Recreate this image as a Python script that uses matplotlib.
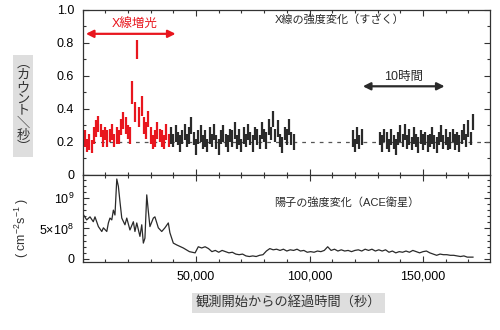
import matplotlib.pyplot as plt
from matplotlib.ticker import MultipleLocator, FixedLocator, FixedFormatter

# X線 (すざく) : 時刻 [ks], カウント/秒, 誤差
xray_time = [1, 2, 3, 4, 5, 6, 7, 8, 9, 10, 11, 12, 13, 14, 15, 16, 17, 18, 19, 20,
             21, 22, 23, 24, 25, 26, 27, 28, 29, 30, 31, 32, 33, 34, 35, 36, 37, 38,
             39, 40, 41, 42, 43, 44, 45, 46, 47, 48, 49, 50, 51, 52, 53, 54, 55, 56,
             57, 58, 59, 60, 61, 62, 63, 64, 65, 66, 67, 68, 69, 70, 71, 72, 73, 74,
             75, 76, 77, 78, 79, 80, 81, 82, 83, 84, 85, 86, 87, 88, 89, 90, 91, 92, 93,
             119, 120, 121, 122, 123,
             131, 132, 133, 134, 135, 136, 137, 138, 139, 140, 141, 142, 143, 144,
             145, 146, 147, 148, 149, 150, 151, 152, 153, 154, 155, 156, 157, 158,
             159, 160, 161, 162, 163, 164, 165, 166, 167, 168, 169, 170, 171, 172]
xray_rate = [0.22, 0.18, 0.20, 0.17, 0.24, 0.28, 0.31, 0.27, 0.22, 0.25, 0.22, 0.24, 0.26,
             0.21, 0.24, 0.23, 0.29, 0.33, 0.30, 0.26, 0.24, 0.50, 0.38, 0.76, 0.35, 0.42,
             0.30, 0.27, 0.34, 0.24, 0.20, 0.22, 0.27, 0.24, 0.22, 0.20, 0.26, 0.21,
             0.24, 0.21, 0.25, 0.22, 0.19, 0.23, 0.26, 0.21, 0.24, 0.30, 0.22, 0.17, 0.23,
             0.25, 0.20, 0.22, 0.18, 0.24, 0.21, 0.26, 0.20, 0.17, 0.23, 0.25, 0.21, 0.19,
             0.24, 0.22, 0.27, 0.20, 0.23, 0.18, 0.24, 0.21, 0.26, 0.22, 0.19, 0.25, 0.23,
             0.20, 0.27, 0.24, 0.21, 0.29, 0.25, 0.34, 0.24, 0.28, 0.21, 0.18, 0.25, 0.23,
             0.29, 0.22, 0.20,
             0.22, 0.18, 0.24, 0.20, 0.23,
             0.22, 0.19, 0.24, 0.21, 0.18, 0.23, 0.20, 0.17, 0.22, 0.25, 0.21, 0.26, 0.20,
             0.23, 0.19, 0.24, 0.21, 0.18, 0.23, 0.20, 0.22, 0.19, 0.21, 0.24, 0.20, 0.18,
             0.22, 0.25, 0.20, 0.23, 0.19, 0.21, 0.24, 0.20, 0.22, 0.19, 0.23, 0.26, 0.21,
             0.28, 0.22, 0.32]
xray_err = [0.05, 0.04, 0.05, 0.04, 0.05, 0.05, 0.05, 0.04, 0.05, 0.04, 0.05, 0.04, 0.05,
            0.04, 0.05, 0.04, 0.05, 0.05, 0.05, 0.04, 0.05, 0.07, 0.06, 0.06, 0.06, 0.06,
            0.05, 0.05, 0.05, 0.05, 0.04, 0.05, 0.05, 0.04, 0.05, 0.04, 0.05, 0.04,
            0.05, 0.04, 0.05, 0.04, 0.05, 0.04, 0.05, 0.04, 0.05, 0.05, 0.04, 0.05, 0.04,
            0.05, 0.04, 0.05, 0.04, 0.05, 0.04, 0.05, 0.04, 0.05, 0.04, 0.05, 0.04, 0.05,
            0.04, 0.05, 0.05, 0.04, 0.05, 0.04, 0.05, 0.04, 0.05, 0.04, 0.05, 0.04, 0.05,
            0.04, 0.05, 0.04, 0.05, 0.05, 0.04, 0.05, 0.04, 0.05, 0.04, 0.05, 0.04, 0.05,
            0.05, 0.04, 0.05,
            0.05, 0.04, 0.05, 0.04, 0.05,
            0.04, 0.05, 0.04, 0.05, 0.04, 0.05, 0.04, 0.05, 0.04, 0.05, 0.04, 0.05, 0.04,
            0.05, 0.04, 0.05, 0.04, 0.05, 0.04, 0.05, 0.04, 0.05, 0.04, 0.05, 0.04, 0.05,
            0.04, 0.05, 0.04, 0.05, 0.04, 0.05, 0.04, 0.05, 0.04, 0.05, 0.04, 0.05, 0.04,
            0.05, 0.04, 0.05]
flare_end = 38.5  # ks, X線増光の区間

# 陽子 (ACE) : 時刻 [ks], 強度 [1e8 cm^-2 s^-1]
proton_time = [0.0, 1.85, 3.3, 4.75, 5.5, 7.0, 8.5, 9.2, 10.7, 11.4, 12.1, 12.9, 13.6,
               14.3, 15.1, 15.8, 16.5, 17.3, 18.7, 19.5, 20.9, 22.4, 23.1, 23.9, 25.3,
               26.1, 26.8, 27.5, 28.3, 29.0, 29.7, 31.2, 31.9, 33.4, 34.9, 36.3, 37.8,
               38.5, 40.0, 41.5, 44.4, 47.1, 49.6,
               51.0, 52.5, 54.0, 55.5, 57.0, 58.5, 60.0, 61.5, 63.0, 64.5, 66.0, 67.5,
               69.0, 70.5, 72.0, 73.5, 75.0, 76.5, 78.0, 79.5, 81.0, 82.5, 84.0, 85.5,
               87.0, 88.5, 90.0, 91.5, 93.0, 94.5, 96.0, 97.5, 99.0, 100.5, 102.0, 103.5,
               105.0, 106.5, 108.0, 109.5, 111.0, 112.5, 114.0, 115.5, 117.0, 118.5,
               120.0, 121.5, 123.0, 124.5, 126.0, 127.5, 129.0, 130.5, 132.0, 133.5,
               135.0, 136.5, 138.0, 139.5, 141.0, 142.5, 144.0, 145.5, 147.0, 148.5,
               150.0, 151.5, 153.0, 154.5, 156.0, 157.5, 159.0, 160.5, 162.0, 163.5,
               165.0, 166.5, 168.0, 169.5, 171.0, 172.0]
proton_flux = [7.5, 6.4, 6.9, 6.1, 6.9, 5.3, 4.5, 5.1, 4.5, 5.9, 6.7, 6.4, 8.0,
               7.2, 13.1, 11.9, 9.4, 6.7, 5.6, 6.7, 4.75, 6.1, 4.5, 5.9, 3.7,
               5.6, 2.6, 3.4, 10.5, 7.8, 5.3, 6.7, 6.9, 5.1, 4.5, 5.1, 5.9,
               4.3, 2.6, 2.3, 1.8, 1.2, 1.0,
               2.0, 1.8, 2.0, 1.7, 1.2, 1.4, 1.1, 1.4, 1.2, 1.0, 1.1, 0.8,
               0.7, 0.8, 0.5, 0.4, 0.5, 0.4, 0.6, 0.7, 1.3, 1.7, 1.5, 1.6,
               1.4, 1.6, 1.3, 1.5, 1.4, 1.6, 1.3, 1.4, 1.1, 1.2, 1.1, 1.3,
               1.2, 1.4, 2.0, 1.4, 1.6, 1.3, 1.5, 1.3, 1.4, 1.2,
               1.4, 1.5, 1.3, 1.6, 1.4, 1.6, 1.3, 1.5, 1.3, 1.5,
               1.1, 1.3, 1.0, 1.2, 1.1, 1.3, 1.1, 1.4, 1.2, 1.0,
               1.2, 1.3, 1.0, 0.8, 0.6, 0.8, 0.7, 0.7, 0.6, 0.6,
               0.5, 0.4, 0.5, 0.3, 0.3, 0.3]

x_ticks = [50000, 100000, 150000]
x_labels = ['50,000', '100,000', '150,000']
top_yticks = [0, 0.2, 0.4, 0.6, 0.8, 1.0]
top_ylabels = ['0', '0.2', '0.4', '0.6', '0.8', '1.0']
bot_yticks = [0, 5e8, 1e9]
bot_ylabels = ['0', '5×10$^8$', '10$^9$']

RED = '#e8161e'
DARK = '#2a2a2a'

plt.rcParams['font.family'] = ['Liberation Sans', 'Noto Sans CJK JP']
plt.rcParams['mathtext.fontset'] = 'custom'
plt.rcParams['mathtext.rm'] = 'Liberation Sans'
plt.rcParams['mathtext.it'] = 'Liberation Sans'


def style_axis(ax):
    ax.tick_params(which='both', direction='in', top=True, right=True,
                   labelsize=9, color='#333333', width=0.8)
    ax.tick_params(which='major', length=4, pad=6)
    ax.tick_params(which='minor', length=2.5)
    for s in ax.spines.values():
        s.set_linewidth(0.9)
        s.set_color('#333333')
    ax.xaxis.set_major_locator(FixedLocator(x_ticks))
    ax.xaxis.set_minor_locator(MultipleLocator(10000))
    ax.set_xlim(0, 179500)


def main():
    fig = plt.figure(figsize=(5, 3.3), dpi=100)
    ax1 = fig.add_axes([0.165, 0.470, 0.815, 0.500])
    ax2 = fig.add_axes([0.165, 0.206, 0.815, 0.264])

    # --- X線 ---
    t = [v * 1000 for v in xray_time]
    red = [i for i, v in enumerate(xray_time) if v <= flare_end]
    blk = [i for i, v in enumerate(xray_time) if v > flare_end]
    ax1.axhline(0.2, color='#555555', lw=0.9, dashes=(3, 4))
    ax1.errorbar([t[i] for i in red], [xray_rate[i] for i in red],
                 yerr=[xray_err[i] for i in red], fmt='none', ecolor=RED, elinewidth=1.6)
    ax1.errorbar([t[i] for i in blk], [xray_rate[i] for i in blk],
                 yerr=[xray_err[i] for i in blk], fmt='none', ecolor=DARK, elinewidth=1.6)
    style_axis(ax1)
    ax1.set_ylim(0, 1.0)
    ax1.yaxis.set_major_locator(FixedLocator(top_yticks))
    ax1.yaxis.set_major_formatter(FixedFormatter(top_ylabels))
    ax1.yaxis.set_minor_locator(MultipleLocator(0.1))
    ax1.tick_params(labelbottom=False)

    ax1.annotate('', xy=(41000, 0.855), xytext=(1500, 0.855),
                 arrowprops=dict(arrowstyle='<|-|>', color=RED, lw=1.6, mutation_scale=11,
                                 shrinkA=0, shrinkB=0))
    ax1.text(23000, 0.915, 'X線増光', color=RED, fontsize=9, ha='center', va='center')
    ax1.annotate('', xy=(159500, 0.537), xytext=(123500, 0.537),
                 arrowprops=dict(arrowstyle='<|-|>', color=DARK, lw=1.6, mutation_scale=11,
                                 shrinkA=0, shrinkB=0))
    ax1.text(141500, 0.595, '10時間', color=DARK, fontsize=9, ha='center', va='center')
    ax1.text(84500, 0.94, 'X線の強度変化（すざく）', color=DARK, fontsize=8,
             ha='left', va='center')

    # --- 陽子 ---
    ax2.plot([v * 1000 for v in proton_time], [v * 1e8 for v in proton_flux],
             color=DARK, lw=0.9)
    style_axis(ax2)
    ax2.set_ylim(-0.05e9, 1.377e9)
    ax2.yaxis.set_major_locator(FixedLocator(bot_yticks))
    ax2.yaxis.set_major_formatter(FixedFormatter(bot_ylabels))
    ax2.yaxis.set_minor_locator(MultipleLocator(1e8))
    ax2.xaxis.set_major_formatter(FixedFormatter(x_labels))
    ax2.text(84500, 0.93e9, '陽子の強度変化（ACE衛星）', color=DARK, fontsize=8,
             ha='left', va='center')

    # 軸ラベル
    fig.text(0.046, 1 - 106 / 330, '︵\nカ\nウ\nン\nト\n＼\n秒\n︶', fontsize=9.5,
             ha='center', va='center', linespacing=1.0, color='#333333',
             bbox=dict(boxstyle='square,pad=0.25', fc='#dedede', ec='none'))
    fig.text(0.044, 1 - 228 / 330, '( cm$^{-2}$s$^{-1}$ )', fontsize=9, rotation=90,
             ha='center', va='center', color='#333333')
    fig.text(0.577, 1 - 303 / 330, '観測開始からの経過時間（秒）', fontsize=9.5,
             ha='center', va='center', color='#333333',
             bbox=dict(boxstyle='square,pad=0.3', fc='#dedede', ec='none'))

    fig.savefig('out.png', dpi=100)


if __name__ == "__main__":
    main()
